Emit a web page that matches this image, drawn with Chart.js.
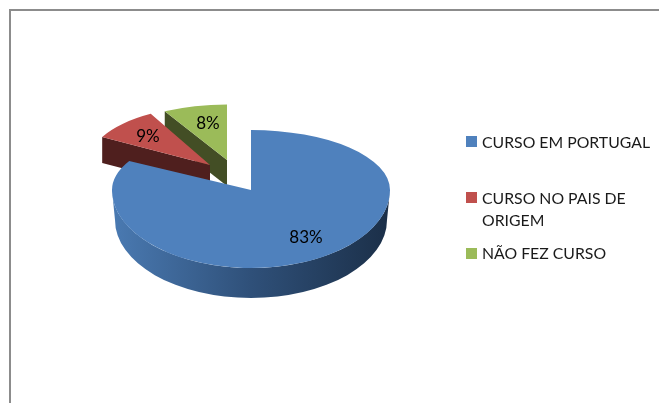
<!DOCTYPE html>
<html><head><meta charset="utf-8">
<script src="https://cdn.jsdelivr.net/npm/chart.js@4"></script>
<style>
html,body{margin:0;padding:0;background:#fff;overflow:hidden}
#wrap{position:absolute;left:0;top:0;width:659px;height:403px}
#frame{position:absolute;left:9px;top:9px;right:0;bottom:0;border-top:2px solid #8c8c8c;border-left:2px solid #8c8c8c}
canvas{position:absolute;left:0;top:0}
</style></head><body>
<div id="wrap"><div id="frame"></div><canvas id="c" width="659" height="403"></canvas></div>
<script>
const categories = ["CURSO EM PORTUGAL", "CURSO NO PAIS DE ORIGEM", "NÃO FEZ CURSO"];
const values = [83, 9, 8];
const colors = ["#4f81bd", "#c0504d", "#9bbb59"];
const darkSides = [null, "#4f1f1e", "#434e25"];
const legendLines = [["CURSO EM PORTUGAL"], ["CURSO NO PAIS DE", "ORIGEM"], ["NÃO FEZ CURSO"]];

const FONT = 'Lato, "Open Sans", sans-serif';
const DEPTH = 26;
// placement of the exploded wedges and their texts
const sliceView = [
  {dx:0,  dy:0,  sx:1,    syUp:60/139, syDown:78/139},
  {dx:-41,dy:-25,sx:.885, syUp:.42,    syDown:.42},
  {dx:-24,dy:-30,sx:.93,  syUp:.40,    syDown:.40}
];
const labelPos = [[306,238],[148,137],[208,124]];
const legendPos = [{box:136,y:[143]},{box:192,y:[199,221]},{box:248,y:[254]}];

const pie3d = {
  id:'pie3d',
  beforeDatasetsDraw(chart){
    const ctx = chart.ctx, arcs = chart.getDatasetMeta(0).data;
    // back wedges first
    [2,1].forEach(i=>{
      const a = arcs[i], v = sliceView[i], R = a.outerRadius;
      const px = a.x+v.dx + R*v.sx*Math.cos(a.startAngle);
      const py = a.y+v.dy + R*v.syUp*Math.sin(a.startAngle);
      const ax = a.x+v.dx, ay = a.y+v.dy;
      ctx.beginPath();
      ctx.moveTo(px,py); ctx.lineTo(ax,ay); ctx.lineTo(ax,ay+DEPTH); ctx.lineTo(px,py+DEPTH); ctx.closePath();
      ctx.fillStyle = darkSides[i]; ctx.fill();
      ctx.save();
      ctx.translate(ax,ay); ctx.scale(v.sx,v.syUp); ctx.translate(-a.x,-a.y);
      a.draw(ctx);
      ctx.restore();
    });
    // front wedge: side wall, then top face in two halves
    const b = arcs[0], v = sliceView[0], R = b.outerRadius;
    const g = ctx.createLinearGradient(b.x-R,0,b.x+R,0);
    g.addColorStop(0,'#4a7ab2'); g.addColorStop(.5,'#2f5079'); g.addColorStop(1,'#1b2f48');
    const rx = R, ry = R*v.syDown;
    ctx.beginPath();
    ctx.ellipse(b.x,b.y,rx,ry,0,Math.PI,0,true);
    ctx.ellipse(b.x,b.y+30,rx-3,ry,0,0,Math.PI,false);
    ctx.closePath();
    ctx.fillStyle = g; ctx.fill();
    ctx.save();
    ctx.beginPath(); ctx.rect(0,0,chart.width,Math.round(b.y)); ctx.clip();
    ctx.translate(b.x,b.y); ctx.scale(v.sx,v.syUp); ctx.translate(-b.x,-b.y);
    b.draw(ctx);
    ctx.restore();
    ctx.save();
    ctx.beginPath(); ctx.rect(0,Math.round(b.y),chart.width,chart.height); ctx.clip();
    ctx.translate(b.x,b.y); ctx.scale(v.sx,v.syDown); ctx.translate(-b.x,-b.y);
    b.draw(ctx);
    ctx.restore();
    // percentage labels
    const total = values.reduce((s,x)=>s+x,0);
    ctx.fillStyle='#000'; ctx.font='17px '+FONT; ctx.textAlign='center'; ctx.textBaseline='middle';
    values.forEach((val,i)=>ctx.fillText(Math.round(val/total*100)+'%',labelPos[i][0],labelPos[i][1]));
    // legend
    ctx.font='15.8px '+FONT; ctx.textAlign='left';
    legendLines.forEach((lines,i)=>{
      ctx.fillStyle=colors[i]; ctx.fillRect(466,legendPos[i].box,11,11);
      ctx.fillStyle='#1a1a1a';
      lines.forEach((t,k)=>ctx.fillText(t,482,legendPos[i].y[k]));
    });
    return false;
  }
};

new Chart(document.getElementById('c'),{
  type:'pie',
  data:{labels:categories,datasets:[{data:values,backgroundColor:colors,borderWidth:0}]},
  options:{
    responsive:false,animation:false,
    layout:{padding:{left:112,right:269,top:51,bottom:74}},
    plugins:{legend:{display:false},tooltip:{enabled:false}}
  },
  plugins:[pie3d]
});
</script>
</body></html>
